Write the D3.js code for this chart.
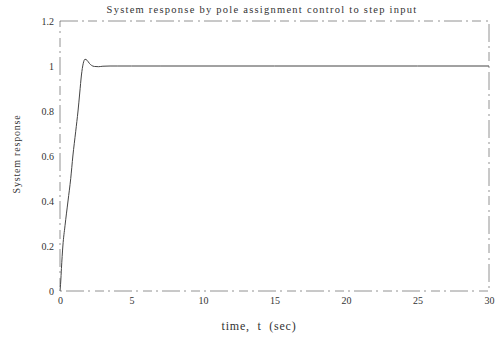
<!DOCTYPE html>
<html>
<head>
<meta charset="utf-8">
<script src="https://cdn.jsdelivr.net/npm/d3@7"></script>
<style>
  html, body { margin: 0; padding: 0; background: #fff; }
  svg text { font-family: "Liberation Serif", "DejaVu Serif", serif; fill: #333; }
</style>
</head>
<body>
<svg id="chart" width="504" height="340"></svg>
<script>
// Step response of the closed loop with pole-assignment control
const timeSec = [0, 0.05, 0.1, 0.2, 0.35, 0.56, 0.75, 0.9, 1.1, 1.26, 1.38, 1.5, 1.62, 1.75, 1.9, 2.05, 2.2, 2.4, 2.7, 3.0, 3.5, 4, 5, 7, 10, 15, 20, 25, 30];
const response = [0, 0.04, 0.1, 0.2, 0.29, 0.4, 0.5, 0.6, 0.71, 0.8, 0.88, 0.96, 1.01, 1.03, 1.025, 1.012, 1.003, 0.998, 0.997, 0.999, 1.0, 1.0, 1.0, 1.0, 1.0, 1.0, 1.0, 1.0, 1.0];

const xTicks = [0, 5, 10, 15, 20, 25, 30];
const yTicks = [0, 0.2, 0.4, 0.6, 0.8, 1, 1.2];
const yTickLabels = ["0", "0.2", "0.4", "0.6", "0.8", "1", "1.2"];

const titleText = "System response by pole assignment control to step input";
const xTitle = "time,  t  (sec)";
const yTitle = "System response";

const svg = d3.select("#chart");
const plotL = 60, plotR = 489, plotT = 21, plotB = 291;

const x = d3.scaleLinear().domain([0, 30]).range([plotL, plotR]);
const y = d3.scaleLinear().domain([0, 1.2]).range([plotB, plotT]);

// frame
svg.append("rect")
  .attr("x", plotL).attr("y", plotT)
  .attr("width", plotR - plotL).attr("height", plotB - plotT)
  .attr("fill", "none").attr("stroke", "#777").attr("stroke-width", 0.8)
  .attr("stroke-dasharray", "18 4 2 4 9 5 2 4");

// x axis labels
const xAxis = d3.axisBottom(x).tickValues(xTicks).tickSize(0).tickPadding(6)
  .tickFormat(d3.format("d"));
svg.append("g").attr("transform", `translate(0,${plotB})`).call(xAxis)
  .call(g => g.select(".domain").remove())
  .selectAll("text").attr("font-size", 10).attr("fill", "#444")
  .style("font-family", "Liberation Serif, serif");

// y axis labels
const yAxis = d3.axisLeft(y).tickValues(yTicks).tickSize(0).tickPadding(6)
  .tickFormat((d, i) => yTickLabels[i]);
svg.append("g").attr("transform", `translate(${plotL},0)`).call(yAxis)
  .call(g => g.select(".domain").remove())
  .selectAll("text").attr("font-size", 10).attr("fill", "#444")
  .style("font-family", "Liberation Serif, serif");

// response curve
const line = d3.line().x((d, i) => x(timeSec[i])).y(d => y(d)).curve(d3.curveMonotoneX);
svg.append("path").datum(response)
  .attr("d", line)
  .attr("fill", "none").attr("stroke", "#444").attr("stroke-width", 1);

// titles
svg.append("text").attr("x", 262).attr("y", 13).attr("text-anchor", "middle")
  .attr("font-size", 10.5).attr("letter-spacing", 1.25).text(titleText);
svg.append("text").attr("x", 259).attr("y", 330).attr("text-anchor", "middle")
  .attr("font-size", 12).attr("letter-spacing", 0.8).style("white-space", "pre")
  .attr("fill", "#222").text(xTitle);
svg.append("text").attr("transform", "translate(20,154) rotate(-90)")
  .attr("text-anchor", "middle").attr("font-size", 10).attr("letter-spacing", 0.8)
  .attr("fill", "#555").text(yTitle);
</script>
</body>
</html>
